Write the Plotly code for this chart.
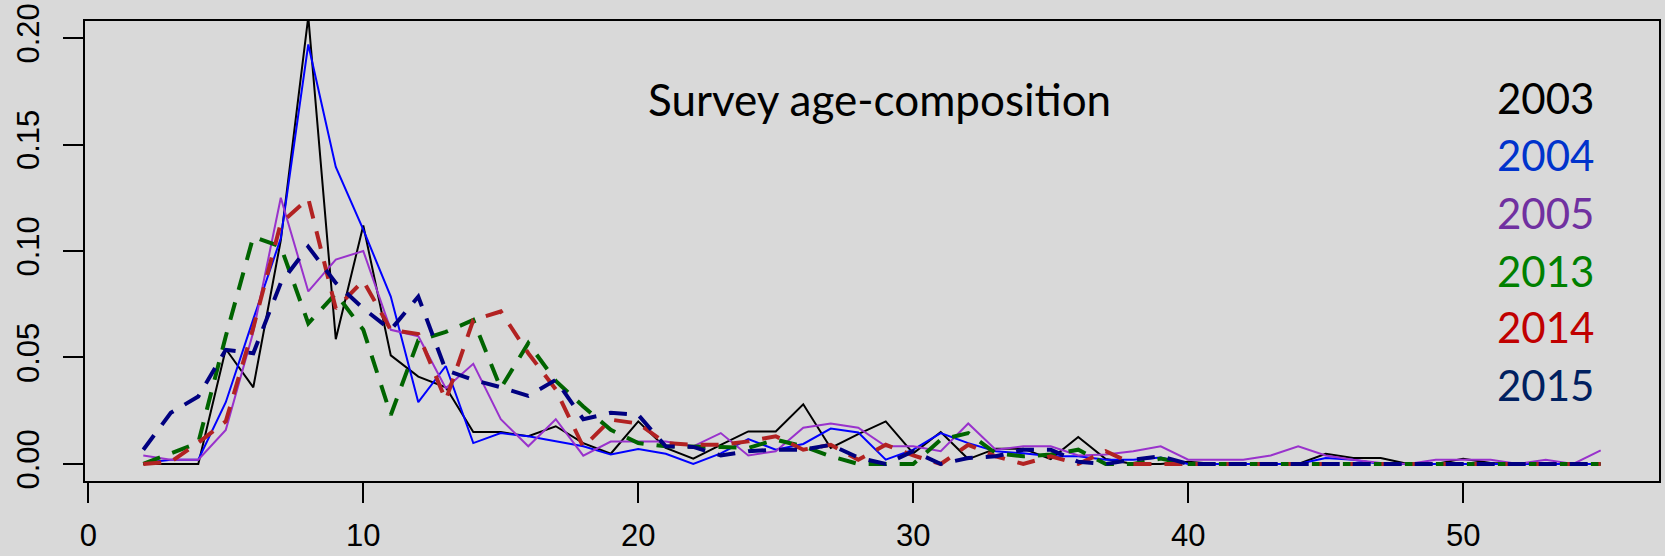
import plotly.graph_objects as go

ages = list(range(2, 56))

y2003 = [0, 0, 0, 0.054, 0.036, 0.105, 0.21, 0.0586, 0.112, 0.051, 0.041, 0.036, 0.015, 0.015, 0.013,
         0.0177, 0.0098, 0.0048, 0.020, 0.0075, 0.0025, 0.009, 0.0153, 0.0153, 0.028, 0.0075, 0.014,
         0.020, 0.005, 0.015, 0.0023, 0.0072, 0.0072, 0.0023, 0.0127, 0.0023, 0, 0, 0.001, 0, 0, 0, 0,
         0.0048, 0.0028, 0.0028, 0, 0, 0.0025, 0.0005, 0, 0, 0, 0]
y2004 = [0.0005, 0.002, 0.002, 0.029, 0.068, 0.106, 0.197, 0.1395, 0.11, 0.0786, 0.029, 0.046, 0.0098,
         0.0145, 0.013, 0.0106, 0.0083, 0.0044, 0.007, 0.0048, 0, 0.005, 0.0117, 0.0067, 0.0094, 0.0166,
         0.0148, 0.002, 0.0067, 0.0145, 0.0098, 0.006, 0.005, 0.0036, 0.0036, 0.002, 0.002, 0.003, 0, 0,
         0, 0, 0, 0.0028, 0.002, 0, 0, 0, 0, 0, 0, 0, 0, 0]
y2005 = [0.004, 0.002, 0.002, 0.016, 0.062, 0.125, 0.081, 0.096, 0.100, 0.063, 0.060, 0.0356, 0.047,
         0.021, 0.0083, 0.021, 0.0039, 0.0105, 0.0105, 0.0105, 0.0083, 0.0145, 0.004, 0.006, 0.017,
         0.019, 0.017, 0.0083, 0.0083, 0.006, 0.019, 0.0067, 0.0083, 0.0083, 0.004, 0.0044, 0.006,
         0.0083, 0.002, 0.002, 0.002, 0.004, 0.0083, 0.004, 0.002, 0.0005, 0, 0.002, 0.002, 0.002, 0,
         0.002, 0, 0.0064]
y2013 = [0, 0.005, 0.01, 0.06, 0.1067, 0.102, 0.066, 0.080, 0.063, 0.023, 0.058, 0.062, 0.0676, 0.0356,
         0.0567, 0.039, 0.027, 0.016, 0.0098, 0.0083, 0.0083, 0.008, 0.0075, 0.0114, 0.0083, 0.0036, 0,
         0, 0, 0.0114, 0.0145, 0.005, 0.0036, 0.0044, 0.0067, 0, 0, 0.0025, 0, 0, 0, 0, 0, 0, 0, 0, 0,
         0, 0, 0, 0, 0, 0, 0]
y2014 = [0, 0.001, 0.01, 0.02, 0.064, 0.113, 0.1246, 0.073, 0.086, 0.063, 0.061, 0.030, 0.0676, 0.0716,
         0.052, 0.035, 0.008, 0.0208, 0.019, 0.0098, 0.009, 0.009, 0.0106, 0.013, 0.0067, 0.009, 0.002,
         0.009, 0.004, 0, 0.009, 0.0036, 0, 0.0036, 0, 0.006, 0, 0, 0, 0, 0, 0, 0, 0, 0, 0, 0, 0, 0, 0,
         0, 0, 0, 0]
y2015 = [0.0067, 0.024, 0.0317, 0.0536, 0.052, 0.085, 0.102, 0.085, 0.073, 0.063, 0.0786, 0.044, 0.0395,
         0.036, 0.032, 0.0395, 0.021, 0.024, 0.023, 0.0083, 0.008, 0.004, 0.006, 0.0067, 0.0067, 0.009,
         0.003, 0, 0.006, 0, 0.0028, 0.0036, 0.0067, 0.0067, 0.001, 0, 0.002, 0.0036, 0, 0, 0, 0, 0, 0,
         0, 0, 0, 0, 0, 0, 0, 0, 0, 0]

years = ["2003", "2004", "2005", "2013", "2014", "2015"]
series = [y2003, y2004, y2005, y2013, y2014, y2015]
line_colors = ["#000000", "#0000FF", "#9932CC", "#006400", "#B22222", "#000080"]
text_colors = ["#000000", "#0033CC", "#7030A0", "#008000", "#C00000", "#002060"]
dashed = [False, False, False, True, True, True]

x_ticks = [0, 10, 20, 30, 40, 50]
y_ticks = [0.0, 0.05, 0.10, 0.15, 0.20]
y_ticktext = ["0.00", "0.05", "0.10", "0.15", "0.20"]
title_text = "Survey age-composition"

fig = go.Figure()
for yr, vals, lc, d in zip(years, series, line_colors, dashed):
    fig.add_trace(go.Scatter(
        x=ages, y=vals, mode="lines", name=yr,
        line=dict(color=lc, width=4 if d else 2, dash="18px,13px" if d else "solid"),
    ))

W, H = 1665, 556
L, R, T, B = 85, 6, 21, 75
pw, ph = W - L - R, H - T - B

def px_to_paper(px, py):
    return (px - L) / pw, (H - B - py) / ph

annotations = []
tx, ty = px_to_paper(879, 99)
annotations.append(dict(x=tx, y=ty, xref="paper", yref="paper", text=title_text, showarrow=False,
                        xanchor="center", yanchor="middle",
                        font=dict(family="Lato", size=44, color="#000000")))
label_y = [98, 155, 212.5, 270.5, 327, 385]
for yr, tc, yc in zip(years, text_colors, label_y):
    ax, ay = px_to_paper(1545.5, yc)
    annotations.append(dict(x=ax, y=ay, xref="paper", yref="paper", text=yr, showarrow=False,
                            xanchor="center", yanchor="middle",
                            font=dict(family="Lato", size=42, color=tc)))

axis_font = dict(family="Liberation Sans, Arial", size=31, color="#000000")
fig.update_layout(
    width=W, height=H,
    margin=dict(l=L, r=R, t=T, b=B, pad=0, autoexpand=False),
    paper_bgcolor="#D9D9D9", plot_bgcolor="#D9D9D9",
    showlegend=False,
    annotations=annotations,
    xaxis=dict(range=[-0.12, 57.12], tickvals=x_ticks, ticktext=[str(v) for v in x_ticks],
               showgrid=False, zeroline=False, showline=True, linecolor="#000000", linewidth=2,
               mirror=True, ticks="outside", ticklen=20, tickwidth=2, tickcolor="#000000",
               ticklabelstandoff=6, automargin=False, tickfont=axis_font),
    yaxis=dict(range=[-0.008, 0.208], tickvals=y_ticks, ticktext=y_ticktext, tickangle=-90,
               showgrid=False, zeroline=False, showline=True, linecolor="#000000", linewidth=2,
               mirror=True, ticks="outside", ticklen=20, tickwidth=2, tickcolor="#000000",
               ticklabelstandoff=12, automargin=False, tickfont=axis_font),
)

fig.write_html("out.html", config={"displayModeBar": False},
               post_script="document.body.style.margin='0';")
